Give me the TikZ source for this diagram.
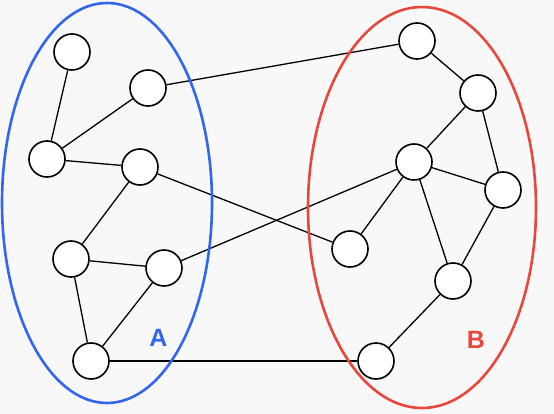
\documentclass[tikz,border=0pt]{standalone}
\usepackage{fontspec}
\setmainfont{Liberation Sans}
\definecolor{bgc}{HTML}{F8F8F8}
\definecolor{setA}{HTML}{3366EE}
\definecolor{setB}{HTML}{E8473C}
\pgfdeclarelayer{bglayer}
\pgfdeclarelayer{edgelayer}
\pgfdeclarelayer{regionlayer}
\pgfsetlayers{bglayer,edgelayer,regionlayer,main}
\begin{document}
\begin{tikzpicture}[x=1pt,y=-1pt,
  vtx/.style={circle,draw=black,fill=white,line width=1.6pt,minimum size=36pt,inner sep=0pt},
  edge/.style={line width=1.3pt,black},
  region/.style={line width=2.6pt},
  lab/.style={font=\fontsize{25}{25}\selectfont\bfseries}]
\begin{pgfonlayer}{bglayer}
\fill[bgc] (0,0) rectangle (554,414);
\end{pgfonlayer}
\useasboundingbox (0,0) rectangle (554,414);
\node[vtx] (l1) at (72,52) {};
\node[vtx] (l2) at (148,88) {};
\node[vtx] (l3) at (47,159) {};
\node[vtx] (l4) at (140,167) {};
\node[vtx] (l5) at (71,259) {};
\node[vtx] (l6) at (164,268) {};
\node[vtx] (l7) at (91,361) {};
\node[vtx] (r1) at (417,41) {};
\node[vtx] (r2) at (478,93) {};
\node[vtx] (r3) at (414,162) {};
\node[vtx] (r4) at (503,190) {};
\node[vtx] (r5) at (350,249) {};
\node[vtx] (r6) at (453,281) {};
\node[vtx] (r7) at (376,361) {};
\begin{pgfonlayer}{edgelayer}
\foreach \a/\b in {l1/l3,l2/l3,l3/l4,l4/l5,l5/l6,l5/l7,l6/l7,l2/r1,l4/r5,l6/r3,l7/r7,r1/r2,r2/r3,r2/r4,r3/r4,r3/r5,r3/r6,r4/r6,r6/r7}
  \draw[edge] (\a) -- (\b);
\end{pgfonlayer}
\begin{pgfonlayer}{regionlayer}
\draw[region,setA] (107,203) ellipse [x radius=105,y radius=200];
\draw[region,setB] (422,207.5) ellipse [x radius=114,y radius=200.5];
\end{pgfonlayer}
\node[lab,text=setA] (la) at (158.5,338) {A};
\node[lab,text=setB] (lb) at (476,340) {B};
\end{tikzpicture}
\end{document}
